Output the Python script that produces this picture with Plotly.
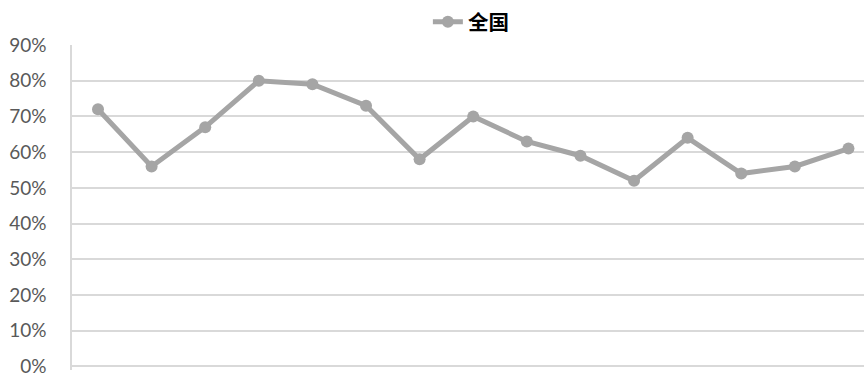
import plotly.graph_objects as go

# Share by period (fraction), national series
periods = list(range(1, 16))
national = [0.72, 0.56, 0.67, 0.80, 0.79, 0.73, 0.58, 0.70, 0.63, 0.59, 0.52, 0.64, 0.54, 0.56, 0.61]
y_ticks = [0, 0.1, 0.2, 0.3, 0.4, 0.5, 0.6, 0.7, 0.8, 0.9]
y_labels = ["0%", "10%", "20%", "30%", "40%", "50%", "60%", "70%", "80%", "90%"]

fig = go.Figure()
fig.add_trace(go.Scatter(
    x=periods,
    y=national,
    mode="lines+markers",
    name="<b>全国</b>",
    line=dict(color="#A5A5A5", width=5),
    marker=dict(color="#A5A5A5", size=12),
))

fig.update_layout(
    width=864,
    height=374,
    margin=dict(l=72, r=0, t=45, b=4, autoexpand=False),
    paper_bgcolor="white",
    plot_bgcolor="white",
    showlegend=True,
    legend=dict(
        orientation="h",
        x=0.545,
        xanchor="center",
        xref="container",
        y=0.995,
        yanchor="top",
        yref="container",
        font=dict(family="Noto Sans CJK SC", size=20.5, color="#000000"),
    ),
    xaxis=dict(
        range=[0.515, 15.29],
        showgrid=False,
        showticklabels=False,
        ticks="",
        zeroline=False,
        showline=False,
        automargin=False,
    ),
    yaxis=dict(
        range=[-0.01, 0.9],
        tickvals=y_ticks,
        ticktext=y_labels,
        showgrid=True,
        gridcolor="#D9D9D9",
        gridwidth=1.5,
        zeroline=False,
        showline=True,
        linecolor="#D9D9D9",
        linewidth=1.5,
        ticks="",
        ticklabelstandoff=20,
        ticklabeloverflow="allow",
        automargin=False,
        tickfont=dict(family="Lato", size=19, color="#595959"),
    ),
)

fig.write_html("out.html")
